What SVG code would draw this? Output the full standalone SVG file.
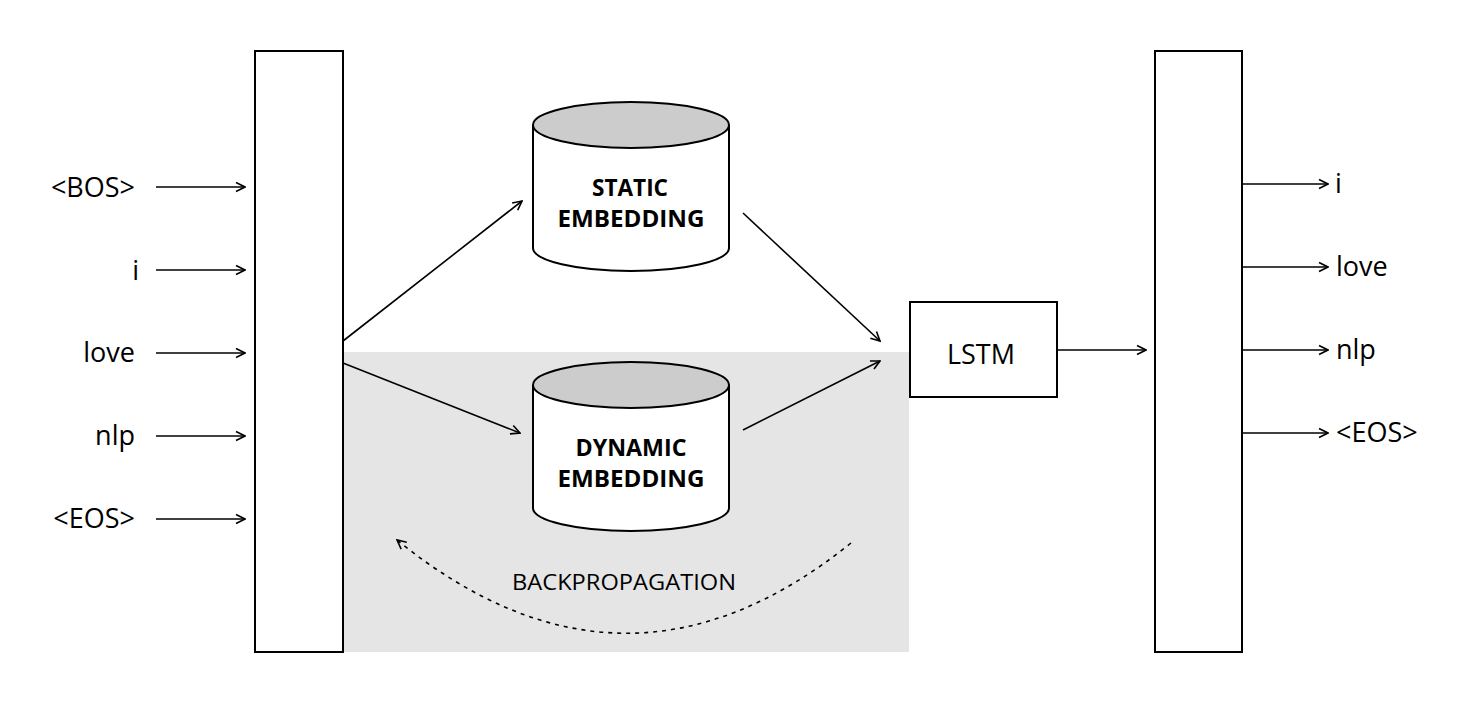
<svg xmlns="http://www.w3.org/2000/svg" width="1476" height="709" viewBox="0 0 1476 709">
<defs>
<style>
.box{fill:#fff;stroke:#000;stroke-width:2}
.ln{fill:none;stroke:#000;stroke-width:1.6}
.lbl{font-family:"Open Sans","Noto Sans",sans-serif;font-size:27px;fill:#000}
.bold{font-family:"Open Sans","Noto Sans",sans-serif;font-size:24px;font-weight:bold;fill:#000}
.bp{font-family:"Open Sans","Noto Sans",sans-serif;font-size:21px;fill:#000}
</style>
<marker id="ah" viewBox="0 0 12 12" refX="11" refY="6" markerWidth="12" markerHeight="12" markerUnits="userSpaceOnUse" orient="auto">
<path d="M2,1.5 L11,6 L2,10.5" fill="none" stroke="#000" stroke-width="1.6"/>
</marker>
</defs>
<rect x="0" y="0" width="1476" height="709" fill="#fff"/>
<rect id="bg-region" x="343" y="352" width="566" height="300" fill="#e5e5e5"/>

<g id="input-column"><rect class="box" x="255" y="51" width="88" height="601"/></g>
<g id="output-column"><rect class="box" x="1155" y="51" width="87" height="601"/></g>

<g id="static-embedding">
<path d="M533,125 L533,248 A98,23 0 0 0 729,248 L729,125" fill="#fff" stroke="#000" stroke-width="2"/>
<ellipse cx="631" cy="125" rx="98" ry="23" fill="#cccccc" stroke="#000" stroke-width="2"/>
<text class="bold" x="630" y="196" text-anchor="middle" textLength="76" lengthAdjust="spacingAndGlyphs">STATIC</text>
<text class="bold" x="631" y="227" text-anchor="middle" textLength="147" lengthAdjust="spacingAndGlyphs">EMBEDDING</text>
</g>

<g id="dynamic-embedding">
<path d="M533,385 L533,508 A98,23 0 0 0 729,508 L729,385" fill="#fff" stroke="#000" stroke-width="2"/>
<ellipse cx="631" cy="385" rx="98" ry="23" fill="#cccccc" stroke="#000" stroke-width="2"/>
<text class="bold" x="631" y="456" text-anchor="middle" textLength="111" lengthAdjust="spacingAndGlyphs">DYNAMIC</text>
<text class="bold" x="631" y="487" text-anchor="middle" textLength="147" lengthAdjust="spacingAndGlyphs">EMBEDDING</text>
</g>

<g id="lstm">
<rect class="box" x="910" y="302" width="147" height="95"/>
<text class="lbl" x="981" y="364" text-anchor="middle" textLength="68" lengthAdjust="spacingAndGlyphs">LSTM</text>
</g>

<g id="input-labels">
<text class="lbl" x="135" y="197" text-anchor="end">&lt;BOS&gt;</text>
<text class="lbl" x="139" y="280" text-anchor="end">i</text>
<text class="lbl" x="135" y="362" text-anchor="end">love</text>
<text class="lbl" x="135" y="445" text-anchor="end">nlp</text>
<text class="lbl" x="135" y="528" text-anchor="end">&lt;EOS&gt;</text>
</g>

<g id="output-labels">
<text class="lbl" x="1335" y="193">i</text>
<text class="lbl" x="1336" y="276">love</text>
<text class="lbl" x="1336" y="359">nlp</text>
<text class="lbl" x="1336" y="442">&lt;EOS&gt;</text>
</g>

<g id="connectors">
<line class="ln" x1="156" y1="187" x2="245" y2="187" marker-end="url(#ah)"/>
<line class="ln" x1="156" y1="270" x2="245" y2="270" marker-end="url(#ah)"/>
<line class="ln" x1="156" y1="353" x2="245" y2="353" marker-end="url(#ah)"/>
<line class="ln" x1="156" y1="436" x2="245" y2="436" marker-end="url(#ah)"/>
<line class="ln" x1="156" y1="519" x2="245" y2="519" marker-end="url(#ah)"/>
<line class="ln" x1="1243" y1="184" x2="1328" y2="184" marker-end="url(#ah)"/>
<line class="ln" x1="1243" y1="267" x2="1328" y2="267" marker-end="url(#ah)"/>
<line class="ln" x1="1243" y1="350" x2="1328" y2="350" marker-end="url(#ah)"/>
<line class="ln" x1="1243" y1="433" x2="1328" y2="433" marker-end="url(#ah)"/>
<line class="ln" x1="1058" y1="350" x2="1146" y2="350" marker-end="url(#ah)"/>
<line class="ln" x1="343" y1="341" x2="522" y2="201" marker-end="url(#ah)"/>
<line class="ln" x1="343" y1="363" x2="520" y2="433" marker-end="url(#ah)"/>
<line class="ln" x1="743" y1="213" x2="880" y2="341" marker-end="url(#ah)"/>
<line class="ln" x1="743" y1="430" x2="880" y2="361" marker-end="url(#ah)"/>
<path class="ln" d="M851,543 Q625,725 397,540" stroke-dasharray="4,5" stroke-width="1.5" marker-end="url(#ah)"/>
</g>
<text class="bp" x="624" y="590" text-anchor="middle" textLength="224" lengthAdjust="spacingAndGlyphs">BACKPROPAGATION</text>
</svg>
